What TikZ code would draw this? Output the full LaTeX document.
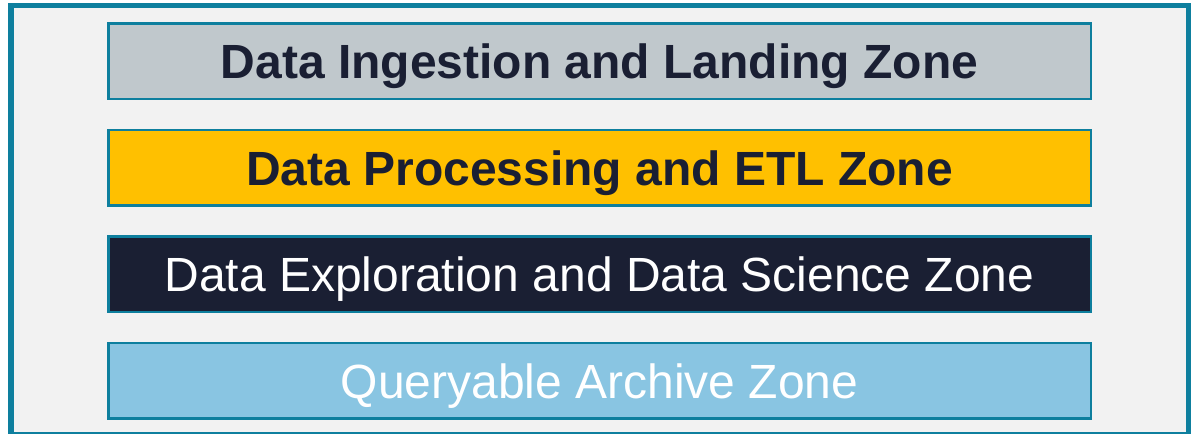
\documentclass[tikz,border=0pt]{standalone}
\usepackage{fontspec}
\setmainfont{Liberation Sans}
\usepackage{tikz}
\usetikzlibrary{positioning}

\definecolor{zoneteal}{RGB}{14,127,158}
\definecolor{zonebg}{RGB}{242,242,242}
\definecolor{zonegray}{RGB}{192,200,204}
\definecolor{zoneyellow}{RGB}{255,192,0}
\definecolor{zonenavy}{RGB}{26,31,51}
\definecolor{zoneblue}{RGB}{137,197,226}

\begin{document}
\begin{tikzpicture}[node distance = 14.25pt and 0pt,
    zone/.style={rectangle,minimum width=491.25pt,minimum height=37.75pt,line width=1.25pt,draw=zoneteal,inner sep=0pt,text height=17.5pt,text depth=0pt,font=\fontsize{24}{28}\selectfont},
    darktext/.style={text=zonenavy,font=\fontsize{24}{28}\selectfont\bfseries},
    lighttext/.style={text=white},
   ]

    \useasboundingbox (0,0) rectangle (600.5pt,-217pt);
    \draw[line width=2.75pt, draw=zoneteal, fill=zonebg] (5.5pt,-2.75pt) rectangle (594.25pt,-217.5pt);

    \node (ingest) [zone,darktext,fill=zonegray] at (299.75pt,-30.5pt) {Data Ingestion and Landing Zone};
    \node (etl)    [zone,darktext,fill=zoneyellow,below=of ingest] {Data Processing and ETL Zone};
    \node (explore) [zone,lighttext,fill=zonenavy,below=of etl] {Data Exploration and Data Science Zone};
    \node (archive) [zone,lighttext,fill=zoneblue,below=of explore] {Queryable Archive Zone};
  \end{tikzpicture}
\end{document}
